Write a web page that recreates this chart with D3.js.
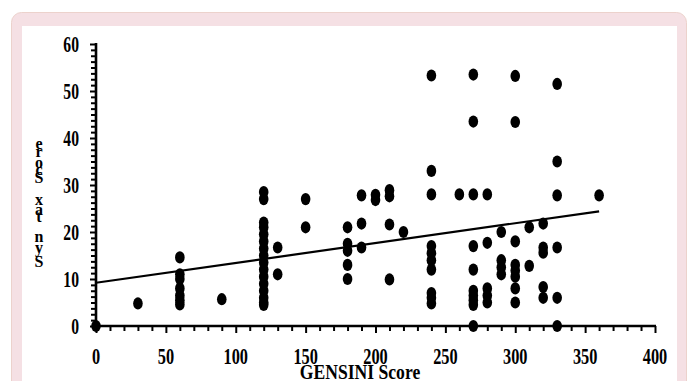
<!DOCTYPE html>
<html>
<head>
<meta charset="utf-8">
<script src="https://cdn.jsdelivr.net/npm/d3@7"></script>
<style>
  html, body { margin: 0; padding: 0; background: #ffffff; }
  svg { display: block; }
  text { font-family: "Liberation Serif", "Times New Roman", serif; font-weight: bold; fill: #000; }
</style>
</head>
<body>
<svg id="chart" width="691" height="381"></svg>
<script>
// ---- data ----
const xTickValues = [0, 50, 100, 150, 200, 250, 300, 350, 400];
const yTickValues = [0, 10, 20, 30, 40, 50, 60];
const xLabel = "GENSINI Score";
const yLabel = "Syntax Score";

// GENSINI score columns and the SYNTAX scores observed in each column
const gensiniCols = [0, 30, 60, 90, 120, 130, 150, 180, 190, 200, 210, 220, 240, 260, 270, 280, 290, 300, 310, 320, 330, 360];
const syntaxByCol = [
  [0],
  [4.8],
  [14.6, 11, 10, 8, 6.5, 5.5, 4.6],
  [5.7],
  [28.5, 27, 22, 21, 19.5, 18, 16.5, 15, 13.5, 12, 10.5, 9, 7.5, 6, 5, 4.5],
  [16.7, 11],
  [27, 21],
  [21, 17.5, 16, 13, 10],
  [27.8, 21.8, 16.7],
  [27.9, 26.8],
  [28.9, 27.6, 21.6, 9.9],
  [20],
  [53.3, 33, 28, 17, 15.5, 14, 12, 7, 6, 4.8],
  [28],
  [53.5, 43.5, 28, 17, 12, 7.5, 6.5, 5.5, 4.5, 0],
  [28, 17.7, 8, 6.5, 5],
  [20, 14, 12.5, 11],
  [53.2, 43.4, 18, 13, 11.8, 10.5, 8, 5],
  [21, 12.8],
  [21.8, 16.7, 15.6, 8.3, 6],
  [51.5, 35, 27.8, 16.7, 6, 0],
  [27.8]
];
// fitted regression line end points
const trendX = [0, 360];
const trendY = [9.2, 24.4];

// ---- drawing ----
const svg = d3.select("#chart");

// pink frame
svg.append("rect")
  .attr("x", 11.5).attr("y", 12.5).attr("width", 675).attr("height", 420)
  .attr("rx", 10).attr("ry", 10)
  .attr("fill", "#f5e0e4").attr("stroke", "#ecd2cc").attr("stroke-width", 1);
svg.append("rect")
  .attr("x", 22).attr("y", 26).attr("width", 655).attr("height", 400)
  .attr("fill", "#ffffff");

const x0 = 96, x1 = 655, y0 = 326, y1 = 44;
const x = d3.scaleLinear().domain([0, 400]).range([x0, x1]);
const y = d3.scaleLinear().domain([0, 60]).range([y0, y1]);

const g = svg.append("g");

// minor ticks
const xMinor = d3.range(0, 401, 10).filter(v => v % 50 !== 0);
const yMinor = d3.range(0, 60.01, 1.25).filter(v => Math.abs(v % 10) > 1e-6);

const xAxis = d3.axisBottom(x).tickValues(xTickValues).tickSize(7).tickFormat("");
const xAxisMinor = d3.axisBottom(x).tickValues(xMinor).tickSize(5).tickFormat("");
const yAxis = d3.axisLeft(y).tickValues(yTickValues).tickSize(6).tickFormat("");
const yAxisMinor = d3.axisLeft(y).tickValues(yMinor).tickSize(5).tickFormat("");

function styleAxis(sel) {
  sel.select(".domain").remove();
  sel.selectAll(".tick line").attr("stroke", "#000").attr("stroke-width", 2);
}
g.append("g").attr("transform", `translate(0,${y0})`).call(xAxisMinor).call(styleAxis);
g.append("g").attr("transform", `translate(0,${y0})`).call(xAxis).call(styleAxis);
g.append("g").attr("transform", `translate(${x0},0)`).call(yAxisMinor).call(styleAxis);
g.append("g").attr("transform", `translate(${x0},0)`).call(yAxis).call(styleAxis);

// axis lines
g.append("line").attr("x1", x0 - 1).attr("x2", x1 + 1).attr("y1", y0).attr("y2", y0)
  .attr("stroke", "#000").attr("stroke-width", 2.6);
g.append("line").attr("x1", x0).attr("x2", x0).attr("y1", y0 + 1).attr("y2", y1 - 1)
  .attr("stroke", "#000").attr("stroke-width", 2.6);

// tick labels (condensed Times bold)
g.selectAll(".xl").data(xTickValues).enter().append("text")
  .attr("class", "xl")
  .attr("transform", d => `translate(${x(d)},364) scale(0.68,1)`)
  .attr("text-anchor", "middle")
  .attr("font-size", 24)
  .text(d => d);
g.selectAll(".yl").data(yTickValues).enter().append("text")
  .attr("class", "yl")
  .attr("transform", d => `translate(79,${y(d) + 8}) scale(0.68,1)`)
  .attr("text-anchor", "end")
  .attr("font-size", 23)
  .text(d => d);

// x axis title
g.append("text")
  .attr("transform", `translate(360,379) scale(0.88,1)`)
  .attr("text-anchor", "middle")
  .attr("font-size", 20)
  .text(xLabel);

// y axis title: upright glyphs stacked bottom-to-top, one text element
const yLabChars = yLabel.split("");
const yLabPos = [262, 248, 237, 217, 210, 200, 189, 178, 170, 163, 152, 144];
const yt = g.append("text").attr("text-anchor", "middle").attr("font-size", 16);
yt.selectAll("tspan").data(yLabChars).enter().append("tspan")
  .attr("x", 39)
  .attr("y", (d, i) => yLabPos[i] + 5)
  .text(d => d);

// points
const pts = [];
gensiniCols.forEach((gx, i) => syntaxByCol[i].forEach(sv => pts.push([gx, sv])));
g.selectAll(".pt").data(pts).enter().append("ellipse")
  .attr("class", "pt")
  .attr("cx", d => x(d[0]))
  .attr("cy", d => y(d[1]))
  .attr("rx", 4.8).attr("ry", 6.1)
  .attr("fill", "#000");

// regression line
g.append("line")
  .attr("x1", x(trendX[0])).attr("y1", y(trendY[0]))
  .attr("x2", x(trendX[1])).attr("y2", y(trendY[1]))
  .attr("stroke", "#000").attr("stroke-width", 2.2);
</script>
</body>
</html>
